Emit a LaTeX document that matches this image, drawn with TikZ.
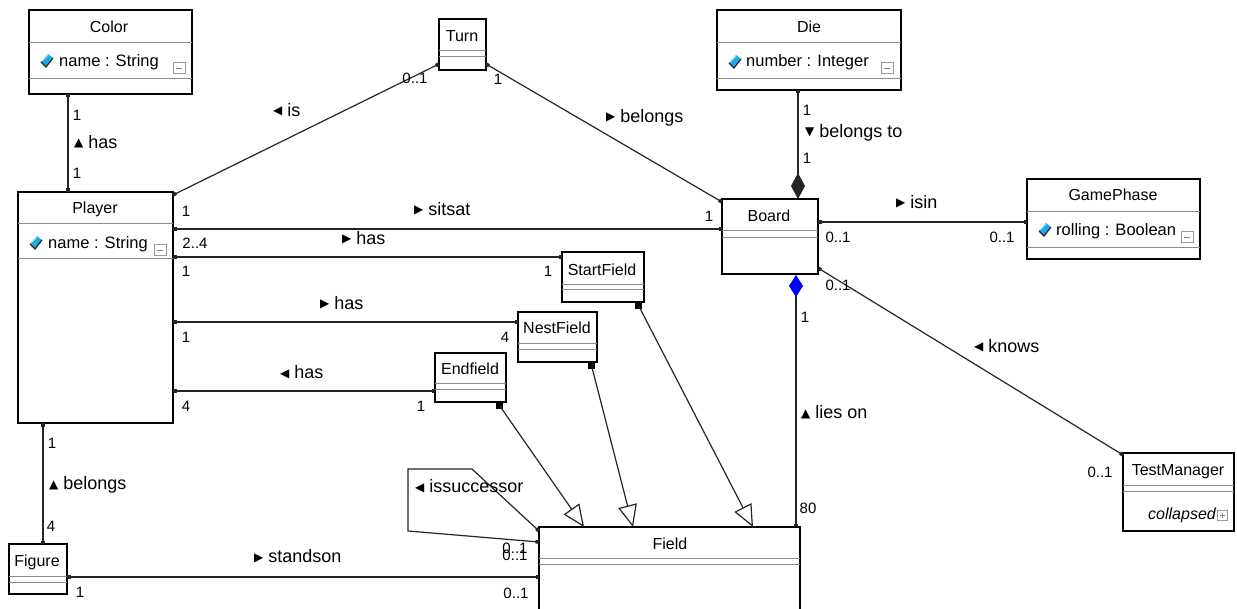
\documentclass[tikz,border=0pt]{standalone}
\usepackage{fontspec}
\setmainfont{Liberation Sans}
\newfontfamily\symfont{DejaVu Sans}
\usetikzlibrary{calc,arrows.meta}
\tikzset{
  cls/.style={draw=black, line width=1.3pt, anchor=north west, inner sep=0pt, outer sep=0pt, fill=white},
  sepline/.style={draw=black!45, line width=0.9pt},
  ttl/.style={font=\fontsize{16}{16}\selectfont, inner sep=0pt, text height=12pt, text depth=1pt},
  attr/.style={font=\fontsize{16.5}{16.5}\selectfont, anchor=west, inner sep=0pt, text height=12pt, text depth=1pt},
  lab/.style={font=\fontsize{18}{18}\selectfont, anchor=west, inner sep=0pt, text height=12pt, text depth=1pt},
  mult/.style={font=\fontsize{15}{15}\selectfont, inner sep=0pt, text height=11pt, text depth=0pt},
  assoc/.style={draw=black!85, line width=1.2pt},
  ends/.style={assoc, {Square[length=3.5pt,width=3.5pt]}-{Square[length=3.5pt,width=3.5pt]}},
  gen/.style={assoc, -{Triangle[length=22pt, width=19pt, fill=white]}},
}
\newcommand{\gem}[2]{%
  \fill[cyan!90!blue!90] (#1-6,#2+1) -- (#1+1,#2-7) -- (#1+6,#2-3) -- (#1-1,#2+6) -- cycle;
  \draw[black!85, line width=1.2pt] (#1-6,#2+1) -- (#1-1,#2+6) -- (#1+6,#2-3);
  \draw[cyan!35!white, line width=0.8pt] (#1-5,#2) -- (#1+1,#2-6);}
\newcommand{\minusbox}[2]{%
  \draw[black!40, line width=0.8pt] (#1,#2) rectangle ++(12,11);
  \draw[black!50, line width=0.8pt] (#1+3,#2+6) -- (#1+9,#2+6);}
\newcommand{\plusbox}[2]{%
  \draw[black!40, line width=0.8pt] (#1,#2) rectangle ++(10,10);
  \draw[black!50, line width=0.8pt] (#1+2.5,#2+5) -- (#1+7.5,#2+5) (#1+5,#2+2.5) -- (#1+5,#2+7.5);}
\newcommand{\hsep}[2]{\draw[sepline] ($(#1.north west)+(0,#2)$) -- ($(#1.north east)+(0,#2)$);}
\newcommand{\trig}[1]{\raisebox{1.5pt}{\symfont\fontsize{12}{12}\selectfont #1}\hspace{5pt}}
\newcommand{\rtri}{\trig{▶}}
\newcommand{\ltri}{\trig{◀}}
\newcommand{\utri}{\trig{▲}}
\newcommand{\dtri}{\trig{▼}}
\begin{document}
\begin{tikzpicture}[x=1pt,y=-1pt]
\useasboundingbox (0,0) rectangle (1237,609);
\clip (0,0) rectangle (1237,609);
\fill[white] (0,0) rectangle (1237,609);

% ---------- class boxes ----------
\node[cls, minimum width=163pt, minimum height=84pt] (color) at (29,10) {};
\hsep{color}{32}\hsep{color}{68}
\node[cls, minimum width=47pt, minimum height=51pt] (turn) at (439,19) {};
\hsep{turn}{31}\hsep{turn}{37}
\node[cls, minimum width=184pt, minimum height=80pt] (die) at (717,10) {};
\hsep{die}{32}\hsep{die}{68}
\node[cls, minimum width=96pt, minimum height=75pt] (board) at (722,199) {};
\hsep{board}{31}\hsep{board}{38}
\node[cls, minimum width=173pt, minimum height=80pt] (gamephase) at (1027,179) {};
\hsep{gamephase}{32}\hsep{gamephase}{68}
\node[cls, minimum width=155pt, minimum height=231pt] (player) at (18,192) {};
\hsep{player}{31}\hsep{player}{66}
\node[cls, minimum width=82pt, minimum height=50pt] (startfield) at (562,252) {};
\hsep{startfield}{32}\hsep{startfield}{37}
\node[cls, minimum width=79pt, minimum height=50pt] (nestfield) at (518,312) {};
\hsep{nestfield}{31}\hsep{nestfield}{37}
\node[cls, minimum width=71pt, minimum height=49pt] (endfield) at (435,353) {};
\hsep{endfield}{30}\hsep{endfield}{36}
\node[cls, minimum width=261pt, minimum height=100pt] (field) at (539,527) {};
\hsep{field}{31}\hsep{field}{37}
\node[cls, minimum width=58pt, minimum height=50pt] (figure) at (9,544) {};
\hsep{figure}{32}\hsep{figure}{38}
\node[cls, minimum width=111pt, minimum height=78pt] (testmanager) at (1123,453) {};
\hsep{testmanager}{32}\hsep{testmanager}{38}

% ---------- class texts ----------
\node[ttl] (tcolor) at (109,27) {Color};
\gem{47}{61}
\node[attr] (acolor) at (59,61) {name : String};
\minusbox{173}{62}
\node[ttl] (tturn) at (462,36) {Turn};
\node[ttl] (tdie) at (809,27) {Die};
\gem{735}{62}
\node[attr] (adie) at (746,61) {number : Integer};
\minusbox{881}{62}
\node[ttl] (tboard) at (769,216) {Board};
\node[ttl] (tgame) at (1113,195) {GamePhase};
\gem{1045}{230}
\node[attr] (agame) at (1056,230) {rolling : Boolean};
\minusbox{1181}{231}
\node[ttl] (tplayer) at (95,208) {Player};
\gem{36}{243}
\node[attr] (aplayer) at (48,243) {name : String};
\minusbox{154}{244}
\node[ttl] (tstart) at (602,270) {StartField};
\node[ttl] (tnest) at (557,328) {NestField};
\node[ttl] (tend) at (470,369) {Endfield};
\node[ttl] (tfield) at (670,544) {Field};
\node[ttl] (tfigure) at (37,561) {Figure};
\node[ttl] (ttest) at (1178,470) {TestManager};
\node[ttl, anchor=east, font=\fontsize{16}{16}\selectfont\itshape] (ctest) at (1216,514) {collapsed};
\plusbox{1217}{510}

% ---------- associations ----------
\draw[ends] ($(color.south west)+(39,0)$) -- ($(player.north west)+(50,0)$);
\draw[ends] ($(player.north east)+(0,3)$) -- ($(turn.south west)+(0,-6)$);
\draw[ends] ($(turn.south east)+(0,-6)$) -- ($(board.north west)+(0,3)$);
\draw[ends] ($(player.north east)+(0,37)$) -- ($(board.north west)+(0,30)$);
\draw[ends] ($(player.north east)+(0,65)$) -- ($(startfield.north west)+(0,5)$);
\draw[ends] ($(player.north east)+(0,130)$) -- ($(nestfield.north west)+(0,10)$);
\draw[ends] ($(player.north east)+(0,199)$) -- ($(endfield.north west)+(0,38)$);
\draw[ends] ($(player.south west)+(25,0)$) -- ($(figure.north west)+(34,0)$);
\draw[ends] ($(figure.north east)+(0,33)$) -- ($(field.north west)+(0,50)$);
\coordinate (s1) at (472,469);
\coordinate (s2) at (408,469);
\coordinate (s3) at (408,531);
\draw[ends] ($(field.north west)+(0,4)$) -- (s1) -- (s2) -- (s3) -- ($(field.north west)+(0,15)$);
\draw[assoc, {Square[length=3.5pt,width=3.5pt]}-{Diamond[length=26pt,width=14pt]}] ($(die.south west)+(81,0)$) -- ($(board.north west)+(76,0)$);
\draw[ends] ($(board.north east)+(0,23)$) -- ($(gamephase.north west)+(0,43)$);
\draw[ends] ($(board.south east)+(0,-6)$) -- ($(testmanager.north west)+(0,2)$);
\draw[assoc, {Square[length=3.5pt,width=3.5pt]}-{Diamond[length=22pt,width=14pt,color=blue]}] ($(field.north east)+(-4,0)$) -- ($(board.south west)+(74,1)$);

% ---------- generalizations ----------
\fill ($(endfield.south east)+(-10,0)$) rectangle ++(7,7);
\draw[gen] ($(endfield.south east)+(-6.5,3.5)$) -- ($(field.north west)+(45,0)$);
\fill ($(nestfield.south east)+(-9,0)$) rectangle ++(7,7);
\draw[gen] ($(nestfield.south east)+(-5.5,3.5)$) -- ($(field.north west)+(94,0)$);
\fill ($(startfield.south east)+(-9,0)$) rectangle ++(7,7);
\draw[gen] ($(startfield.south east)+(-5.5,3.5)$) -- ($(field.north west)+(214,0)$);

% ---------- association labels ----------
\node[lab] (lhas1) at (74,143) {\utri has};
\node[lab] (lis) at (273,111) {\ltri is};
\node[lab] (lbel1) at (606,117) {\rtri belongs};
\node[lab] (lsit) at (414,210) {\rtri sitsat};
\node[lab] (lhas2) at (342,239) {\rtri has};
\node[lab] (lhas3) at (320,304) {\rtri has};
\node[lab] (lhas4) at (280,373) {\ltri has};
\node[lab] (lbel2) at (49,484) {\utri belongs};
\node[lab] (lstand) at (254,557) {\rtri standson};
\node[lab] (lsucc) at (415,487) {\ltri issuccessor};
\node[lab] (lbelto) at (805,132) {\dtri belongs to};
\node[lab] (lisin) at (896,203) {\rtri isin};
\node[lab] (lknows) at (974,347) {\ltri knows};
\node[lab] (llies) at (801,413) {\utri lies on};

% ---------- multiplicities ----------
\node[mult] (m1) at (77,115) {1};
\node[mult] (m2) at (77,173) {1};
\node[mult] (m3) at (415,78) {0..1};
\node[mult] (m4) at (498,79) {1};
\node[mult] (m5) at (186,211) {1};
\node[mult] (m6) at (709,216) {1};
\node[mult] (m7) at (195,243) {2..4};
\node[mult] (m8) at (186,271) {1};
\node[mult] (m9) at (548,271) {1};
\node[mult] (m10) at (186,337) {1};
\node[mult] (m11) at (505,337) {4};
\node[mult] (m12) at (186,406) {4};
\node[mult] (m13) at (421,406) {1};
\node[mult] (m14) at (52,443) {1};
\node[mult] (m15) at (51,526) {4};
\node[mult] (m16) at (80,592) {1};
\node[mult] (m17) at (516,593) {0..1};
\node[mult] (m18) at (515,548) {0..1};
\node[mult] (m19) at (515,555) {0..1};
\node[mult] (m20) at (807,110) {1};
\node[mult] (m21) at (807,158) {1};
\node[mult] (m22) at (838,237) {0..1};
\node[mult] (m23) at (1002,237) {0..1};
\node[mult] (m24) at (838,285) {0..1};
\node[mult] (m25) at (1100,472) {0..1};
\node[mult] (m26) at (805,317) {1};
\node[mult] (m27) at (808,508) {80};
\end{tikzpicture}
\end{document}
